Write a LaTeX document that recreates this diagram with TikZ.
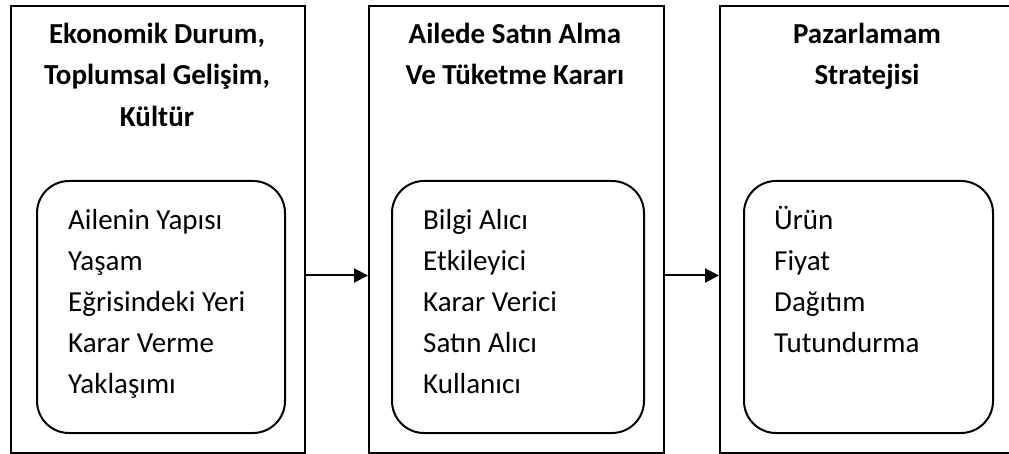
\documentclass[tikz,border=0pt]{standalone}
\usepackage{fontspec}
\setmainfont{Carlito}
\usetikzlibrary{arrows.meta}
\begin{document}
\begin{tikzpicture}[x=1pt,y=-1pt,
  outer/.style={draw,line width=2pt,anchor=north west,inner sep=0pt,minimum height=447pt},
  inner/.style={draw,line width=2pt,rounded corners=32pt,anchor=north west,inner sep=0pt,minimum height=252pt},
  title/.style={align=center,font=\fontsize{29pt}{41.5pt}\selectfont\bfseries,anchor=north,inner sep=0pt},
  items/.style={align=left,font=\fontsize{29pt}{41pt}\selectfont,anchor=north west,inner sep=0pt},
  conn/.style={line width=2pt,-{Triangle[length=14pt,width=14pt]}}]
\useasboundingbox (0,0) rectangle (1009,454);
\clip (0,0) rectangle (1009,454);
\fill[white] (0,0) rectangle (1009,454);
% outer boxes
\node[outer,minimum width=294pt] (b1) at (9.5,5) {};
\node[outer,minimum width=295pt] (b2) at (368,5) {};
\node[outer,minimum width=300pt] (b3) at (719,5) {};
% inner rounded boxes
\node[inner,minimum width=248pt] (i1) at (36,180) {};
\node[inner,minimum width=252pt] (i2) at (391,180) {};
\node[inner,minimum width=249pt] (i3) at (743,180) {};
% titles
\node[title] (t1) at (157,14) {\strut Ekonomik Durum,\\Toplumsal Gelişim,\\Kültür};
\node[title] (t2) at (515,14) {\strut Ailede Satın Alma\\Ve Tüketme Kararı};
\node[title] (t3) at (867,14) {\strut Pazarlamam\\Stratejisi};
% items
\node[items] (l1) at (68,201) {\strut Ailenin Yapısı\\Yaşam\\Eğrisindeki Yeri\\Karar Verme\\Yaklaşımı};
\node[items] (l2) at (423,201) {\strut Bilgi Alıcı\\Etkileyici\\Karar Verici\\Satın Alıcı\\Kullanıcı};
\node[items] (l3) at (774,201) {\strut Ürün\\Fiyat\\Dağıtım\\Tutundurma};
% connectors
\draw[conn] (b1.east |- 0,275.5) -- (b2.west |- 0,275.5);
\draw[conn] (b2.east |- 0,275.5) -- (b3.west |- 0,275.5);
\end{tikzpicture}
\end{document}
